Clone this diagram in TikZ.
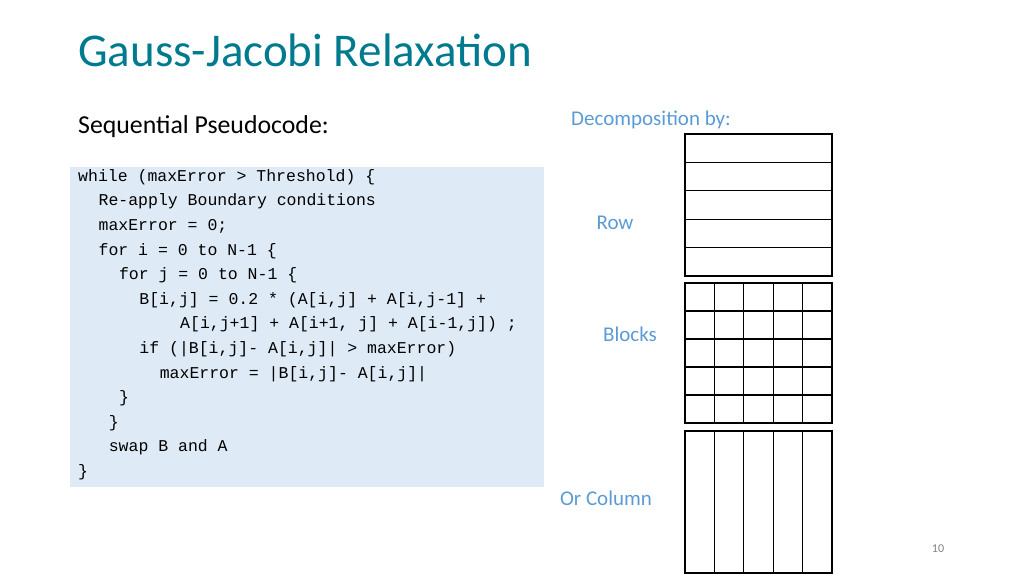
\documentclass[tikz,border=0pt]{standalone}
\usepackage{fontspec}
\setmainfont{Carlito}
\newfontfamily\codefont{Liberation Mono}
\definecolor{teal1}{RGB}{0,122,142}
\definecolor{lblue}{RGB}{91,155,213}
\definecolor{boxbg}{RGB}{222,235,247}
\begin{document}
\begin{tikzpicture}[x=1pt,y=-1pt,
  code/.style={anchor=west,inner sep=0,font=\codefont\fontsize{16.5}{18}\selectfont},
  lbl/.style={text=lblue,font=\fontsize{21}{24}\selectfont,inner sep=0},
  grid/.style={draw=black,line width=1.2pt}]
\useasboundingbox (0,0) rectangle (1024,576);
\node[anchor=base west,inner sep=0,text=teal1,font=\fontsize{47}{54}\selectfont] (title) at (78,66) {Gauss-Jacobi Relaxation};
\node[anchor=west,inner sep=0,font=\fontsize{25.8}{30}\selectfont] (sub) at (78,127) {Sequential Pseudocode:};
\fill[boxbg] (70,167) rectangle (544,487);
\foreach \i/\ind/\t in {0/0/{while (maxError > Threshold) \{},
 1/2/{Re-apply Boundary conditions},
 2/2/{maxError = 0;},
 3/2/{for i = 0 to N-1 \{},
 4/4/{for j = 0 to N-1 \{},
 5/6/{B[i,j] = 0.2 * (A[i,j] + A[i,j-1] +},
 6/10/{A[i,j+1] + A[i+1, j] + A[i-1,j]) ;},
 7/6/{if (|B[i,j]- A[i,j]| > maxError)},
 8/8/{maxError = |B[i,j]- A[i,j]|},
 9/4/{\}},
 10/3/{\}},
 11/3/{swap B and A},
 12/0/{\}}}
  \node[code] (c\i) at ({78+\ind*10.2},{177+\i*24.6}) {\t};
\node[lbl,anchor=west] (dec) at (571,120) {Decomposition by:};
\node[lbl] (row) at (615,223) {Row};
\node[lbl] (blk) at (630,334) {Blocks};
\node[lbl] (col) at (606,498) {Or Column};
\node[text=gray,font=\fontsize{12}{14}\selectfont] (pg) at (938,549) {10};
% Row grid
\draw[grid] (685,134) rectangle (832,276);
\foreach \k in {1,...,4} \draw[grid] (685,{134+\k*28.4}) -- (832,{134+\k*28.4});
% Blocks grid
\draw[grid] (685,283) rectangle (832,423);
\foreach \k in {1,...,4} {\draw[grid] (685,{283+\k*28}) -- (832,{283+\k*28});
  \draw[grid] ({685+\k*29.4},283) -- ({685+\k*29.4},423);}
% Column grid
\draw[grid] (685,431) rectangle (832,573);
\foreach \k in {1,...,4} \draw[grid] ({685+\k*29.4},431) -- ({685+\k*29.4},573);
\end{tikzpicture}
\end{document}
